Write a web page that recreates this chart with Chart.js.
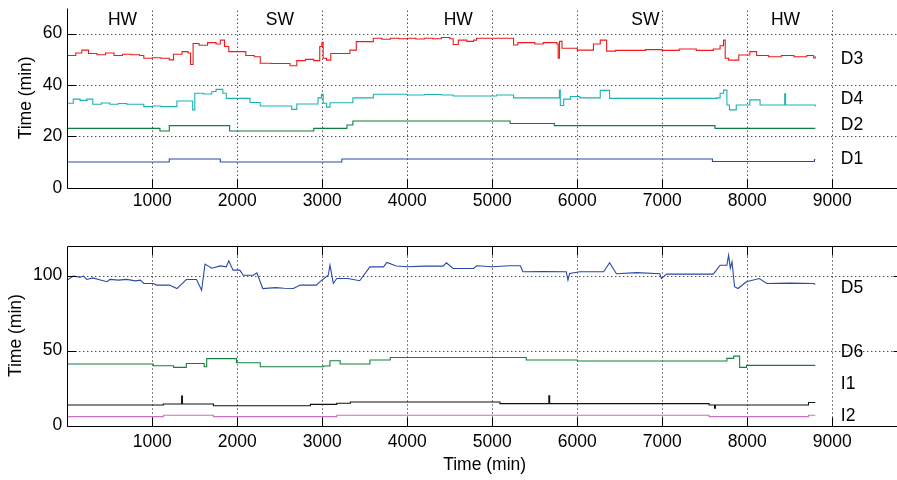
<!DOCTYPE html>
<html>
<head>
<meta charset="utf-8">
<script src="https://cdn.jsdelivr.net/npm/chart.js@4.4.1/dist/chart.umd.min.js"></script>
<style>
html,body{margin:0;padding:0;background:#fff;width:897px;height:480px;overflow:hidden;position:relative;}
canvas{position:absolute;left:0;}
#c1{top:0;}
#c2{top:230px;}
</style>
</head>
<body>
<canvas id="c1" width="910" height="230"></canvas>
<canvas id="c2" width="910" height="250"></canvas>
<script>
// ---------- data (time in minutes) ----------
const xTicks = [1000,2000,3000,4000,5000,6000,7000,8000,9000];
const topYTicks = [0,20,40,60];
const botYTicks = [0,50,100];

const d3T = [0,100,170,250,350,450,550,650,750,850,900,1000,1100,1200,1250,1350,1420,1450,1480,1550,1650,1750,1800,1850,1900,2000,2100,2200,2270,2400,2500,2620,2700,2800,2900,2970,2995,3010,3050,3100,3200,3290,3325,3400,3550,3600,3700,3800,3900,4000,4100,4200,4300,4400,4500,4540,4600,4700,4780,4815,4900,5000,5100,5210,5250,5300,5400,5500,5600,5700,5760,5775,5790,5820,5900,6000,6100,6190,6270,6345,6450,6600,6800,7000,7200,7400,7600,7680,7720,7740,7780,7840,7900,7990,8030,8110,8250,8400,8550,8700,8780,8800];
const d3V = [51.5,52.5,53.6,52.3,51.8,52.5,51.5,52.0,51.8,51.5,50.4,50.6,50.4,49.8,52.0,53.0,52.5,48.0,56.2,55.5,56.5,56.0,57.5,55.0,53.0,53.0,51.5,51.0,48.5,48.4,48.4,47.5,49.5,50.0,49.5,55.0,56.6,50.4,49.7,52.3,52.3,52.3,53.6,56.9,56.9,58.2,57.8,58.2,58.0,58.2,57.9,58.2,58.0,58.5,58.0,55.8,57.5,57.0,57.5,58.2,58.2,58.2,58.2,58.2,55.6,56.5,56.5,56.0,56.5,56.5,56.0,50.4,57.0,54.3,54.3,53.6,53.6,56.0,57.5,53.2,53.5,53.5,53.8,53.5,54.0,53.5,54.0,55.3,57.5,50.4,49.7,49.7,51.7,51.7,53.0,51.5,51.0,51.5,51.0,51.5,50.5,51.2];

const d4T = [0,70,150,230,300,400,500,600,700,800,900,1000,1100,1250,1290,1440,1475,1500,1600,1700,1750,1830,1870,2000,2110,2150,2270,2400,2600,2640,2700,2890,2950,2990,3010,3050,3090,3325,3360,3580,3600,3800,4000,4200,4400,4540,5010,5050,5210,5250,5500,5760,5790,5800,5840,5920,6030,6190,6270,6380,6600,7000,7400,7640,7680,7720,7760,7790,7850,7870,7990,8030,8150,8430,8440,8450,8700,8800];
const d4V = [32.9,34.5,34.0,34.5,32.5,33.0,32.5,32.8,32.5,32.5,31.6,31.8,31.6,31.6,33.8,33.8,30.3,36.8,36.5,37.5,38.3,36.8,34.8,34.8,34.8,33.2,31.8,31.8,31.8,30.5,32.6,32.6,35.0,36.4,32.9,31.4,33.1,33.1,35.0,35.0,36.4,36.4,36.1,36.3,36.1,35.7,35.7,36.1,36.1,35.0,35.0,35.0,38.0,32.0,34.5,35.5,35.0,35.0,37.9,34.8,34.8,34.8,34.8,35.0,36.8,38.0,32.2,30.3,30.3,32.2,32.2,34.2,32.2,32.2,36.6,32.2,32.2,31.6];

const d2T = [0,1090,1200,1910,2900,3290,3360,5210,5730,7620,8800];
const d2V = [23.1,22.1,24.2,22.1,23.1,24.4,26.0,25.0,24.2,23.1,23.1];

const d1T = [0,1200,1800,3230,7590,8790,8800];
const d1V = [10.0,11.2,10.0,11.2,10.2,11.0,11.0];

const d5T = [0,70,150,190,230,300,400,470,500,600,700,800,860,900,1010,1050,1200,1290,1400,1520,1580,1620,1700,1800,1870,1900,1950,2030,2070,2190,2230,2300,2450,2550,2660,2740,2930,2970,3070,3090,3130,3170,3300,3440,3560,3720,3760,3870,4000,4200,4420,4460,4540,4780,4815,5000,5200,5330,5360,5600,5870,5890,5910,6030,6310,6380,6460,6700,6970,6990,7050,7300,7600,7680,7760,7780,7800,7820,7850,7890,7990,8140,8230,8500,8780,8800];
const d5V = [97.0,99.7,99.0,99.7,97.5,98.5,97.0,96.0,97.5,97.0,97.5,96.5,97.0,94.8,94.8,93.7,93.7,91.4,97.4,97.4,90.3,107.7,105.0,106.5,105.9,109.9,103.7,103.7,100.3,100.3,101.9,91.4,92.0,91.6,91.4,93.7,93.7,95.9,100.3,107.0,94.8,98.1,98.1,96.6,105.9,105.9,108.8,106.4,106.0,106.4,106.4,108.6,104.8,104.8,106.6,106.0,106.6,106.6,102.6,102.8,102.6,97.0,101.4,102.6,102.6,108.6,101.3,102.0,101.3,98.1,101.0,101.0,101.0,107.0,107.0,113.7,105.0,109.2,92.6,91.4,95.9,98.1,94.8,95.0,94.8,94.1];

const d6T = [0,500,1010,1250,1400,1560,1610,1640,1950,1990,2230,2270,2970,3010,3090,3170,3210,3520,3560,3760,3800,5360,5400,5910,6000,7700,7760,7840,7910,7990,8800];
const d6V = [41.0,41.0,39.9,38.8,41.4,41.4,39.2,44.6,44.6,41.9,41.9,39.2,39.2,39.7,43.2,43.2,41.0,41.0,43.7,43.7,45.4,45.4,43.7,43.7,43.0,43.0,44.8,46.3,38.8,40.1,40.1];

const i1T = [0,1130,1345,1355,1720,2860,3170,3330,5090,5665,5675,7550,7615,7625,8720,8800];
const i1V = [13.7,14.3,19.7,14.3,13.2,14.1,14.8,15.7,14.6,19.9,14.6,13.7,11.5,13.7,15.4,15.4];

const i2T = [0,1130,1720,3170,7550,8720,8800];
const i2V = [5.9,6.8,5.9,6.8,5.9,6.8,6.8];

const regionNames = ['HW','SW','HW','SW','HW'];
const regionX = [650,2500,4600,6800,8450];
const regionY = 65.3;
const topNames = ['D3','D4','D2','D1'];
const topNameY = [49.9,34.6,24.4,11.2];
const botNames = ['D5','D6','I1','I2'];
const botNameY = [91.7,48.9,27.5,6.3];
const nameX = 9100;

// ---------- helpers ----------
const FONT = "'Liberation Sans', Arial, Helvetica, sans-serif";
const FS = 17.5;
const X_MAX = 9820;
Chart.defaults.font.family = FONT;
Chart.defaults.font.size = FS;
Chart.defaults.color = '#000';

function pts(t, v){ return t.map((x,i)=>({x:x, y:v[i]})); }
function ds(t, v, color, stepped){
  return {data: pts(t,v), borderColor: color, borderWidth: 1.1, pointRadius: 0,
          fill: false, tension: 0, stepped: stepped ? 'before' : false};
}

const matlabAxes = {
  id: 'matlabAxes',
  beforeDatasetsDraw(chart, args, o){
    const {ctx, chartArea:a, scales:{x, y}} = chart;
    ctx.save();
    ctx.strokeStyle = '#000'; ctx.lineWidth = 1; ctx.setLineDash([1,3]);
    x.ticks.forEach(t => {
      const px = Math.round(x.getPixelForValue(t.value)) + 0.5;
      ctx.beginPath(); ctx.moveTo(px, a.bottom); ctx.lineTo(px, a.top); ctx.stroke();
    });
    y.ticks.forEach(t => {
      if (t.value === 0) return;
      const py = Math.round(y.getPixelForValue(t.value)) + 0.5;
      ctx.beginPath(); ctx.moveTo(a.left, py); ctx.lineTo(a.right, py); ctx.stroke();
    });
    ctx.restore();
  },
  afterDatasetsDraw(chart, args, o){
    const {ctx, chartArea:a, scales:{x, y}} = chart;
    const L = Math.round(a.left) + 0.5, B = Math.round(a.bottom) + 0.5;
    const T = Math.round(a.top) + 0.5, R = Math.round(a.right) + 0.5;
    const tl = 9;
    ctx.save();
    ctx.strokeStyle = '#000'; ctx.lineWidth = 1; ctx.setLineDash([]);
    ctx.beginPath();
    ctx.moveTo(L, T); ctx.lineTo(L, B); ctx.lineTo(R, B);
    if (o.box){ ctx.lineTo(R, T); ctx.lineTo(L, T); }
    ctx.stroke();
    ctx.beginPath();
    x.ticks.forEach(t => {
      const px = Math.round(x.getPixelForValue(t.value)) + 0.5;
      ctx.moveTo(px, B); ctx.lineTo(px, B - tl);
      if (o.box){ ctx.moveTo(px, T); ctx.lineTo(px, T + tl); }
    });
    y.ticks.forEach(t => {
      const py = Math.round(y.getPixelForValue(t.value)) + 0.5;
      ctx.moveTo(L, py); ctx.lineTo(L + tl, py);
      if (o.box){ ctx.moveTo(R, py); ctx.lineTo(R - tl, py); }
    });
    ctx.stroke();
    ctx.fillStyle = '#000';
    ctx.font = FS + 'px ' + FONT;
    ctx.textBaseline = 'middle';
    (o.labels || []).forEach(l => {
      ctx.textAlign = l.align;
      ctx.fillText(l.text, x.getPixelForValue(l.x), y.getPixelForValue(l.y));
    });
    ctx.restore();
  }
};

function noPad(s){ s.paddingTop = 0; s.paddingBottom = 0; s.paddingLeft = 0; s.paddingRight = 0; }

function makeChart(id, datasets, yMax, yTicks, padTop, xHeight, yTitlePad, xTitle, box, labels, xPad){
  return new Chart(document.getElementById(id), {
    type: 'line',
    data: {datasets: datasets},
    options: {
      responsive: false, animation: false, devicePixelRatio: 1,
      layout: {padding: {top: padTop, right: 8, left: 0, bottom: 0}},
      plugins: {legend: {display: false}, tooltip: {enabled: false}, matlabAxes: {box: box, labels: labels}},
      scales: {
        x: {
          type: 'linear', min: 0, max: X_MAX,
          afterBuildTicks: s => { s.ticks = xTicks.map(v => ({value: v})); },
          afterFit: s => { s.height = xHeight; noPad(s); },
          grid: {display: false, drawTicks: false}, border: {display: false},
          ticks: {padding: xPad, maxRotation: 0, autoSkip: false, font: {size: FS}, color: '#000',
                  callback: v => String(v)},
          title: xTitle ? {display: true, text: 'Time (min)', font: {size: FS}, color: '#000', padding: {top: 0, bottom: 4}} : {display: false}
        },
        y: {
          type: 'linear', min: 0, max: yMax,
          afterBuildTicks: s => { s.ticks = yTicks.map(v => ({value: v})); },
          afterFit: s => { s.width = 67.3; noPad(s); },
          grid: {display: false, drawTicks: false}, border: {display: false},
          ticks: {padding: 5, font: {size: FS}, color: '#000', callback: v => String(v)},
          title: {display: true, text: 'Time (min)', font: {size: FS}, color: '#000', padding: {top: yTitlePad, bottom: 0}}
        }
      }
    },
    plugins: [matlabAxes]
  });
}

const topLabels = regionNames.map((n,i)=>({text:n, x:regionX[i], y:regionY, align:'center'}))
  .concat(topNames.map((n,i)=>({text:n, x:nameX, y:topNameY[i], align:'left'})));
const botLabels = botNames.map((n,i)=>({text:n, x:nameX, y:botNameY[i], align:'left'}));

makeChart('c1', [
  ds(d1T, d1V, '#2b4ca3', true),
  ds(d2T, d2V, '#0e7d3d', true),
  ds(d4T, d4V, '#19b3b3', true),
  ds(d3T, d3V, '#f01a1a', true)
], 70, topYTicks, 8, 230 - 187.7, 15.5, false, false, topLabels, 3);

makeChart('c2', [
  ds(i2T, i2V, '#cc6fbf', true),
  ds(i1T, i1V, '#111111', true),
  ds(d6T, d6V, '#13803e', true),
  ds(d5T, d5V, '#2a48a8', false)
], 120, botYTicks, 15.7, 250 - 195.5, 5.5, true, true, botLabels, 6);
</script>
</body>
</html>
